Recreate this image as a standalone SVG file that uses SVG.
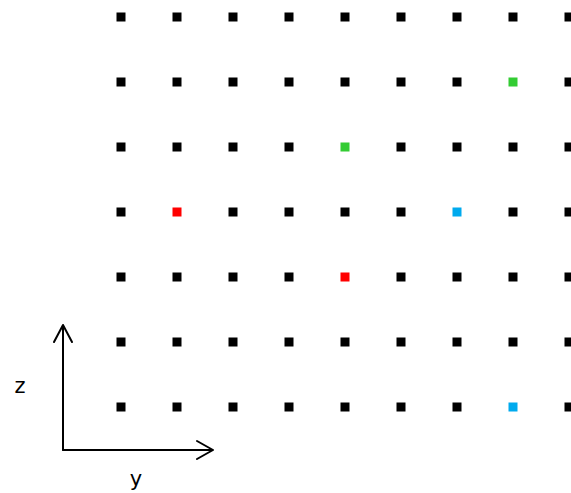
<svg xmlns="http://www.w3.org/2000/svg" width="571" height="493" viewBox="0 0 571 493">
<defs>
<style>
.p{fill:#000}
.g{fill:#33cc33}
.r{fill:#ff0000}
.b{fill:#00aaee}
.ax{stroke:#000;stroke-width:2;fill:none;stroke-linecap:round;stroke-linejoin:round}
.lbl{font-family:"DejaVu Sans",sans-serif;font-size:21px;fill:#000}
</style>
<rect id="sq" x="-4.5" y="-4.5" width="9" height="9"/>
</defs>
<rect width="571" height="493" fill="#fff"/>
<g id="grid">
<g class="p">
<use href="#sq" x="121" y="17"/><use href="#sq" x="177" y="17"/><use href="#sq" x="233" y="17"/><use href="#sq" x="289" y="17"/><use href="#sq" x="345" y="17"/><use href="#sq" x="401" y="17"/><use href="#sq" x="457" y="17"/><use href="#sq" x="513" y="17"/><use href="#sq" x="569" y="17"/>
<use href="#sq" x="121" y="82"/><use href="#sq" x="177" y="82"/><use href="#sq" x="233" y="82"/><use href="#sq" x="289" y="82"/><use href="#sq" x="345" y="82"/><use href="#sq" x="401" y="82"/><use href="#sq" x="457" y="82"/><use href="#sq" x="569" y="82"/>
<use href="#sq" x="121" y="147"/><use href="#sq" x="177" y="147"/><use href="#sq" x="233" y="147"/><use href="#sq" x="289" y="147"/><use href="#sq" x="401" y="147"/><use href="#sq" x="457" y="147"/><use href="#sq" x="513" y="147"/><use href="#sq" x="569" y="147"/>
<use href="#sq" x="121" y="212"/><use href="#sq" x="233" y="212"/><use href="#sq" x="289" y="212"/><use href="#sq" x="345" y="212"/><use href="#sq" x="401" y="212"/><use href="#sq" x="513" y="212"/><use href="#sq" x="569" y="212"/>
<use href="#sq" x="121" y="277"/><use href="#sq" x="177" y="277"/><use href="#sq" x="233" y="277"/><use href="#sq" x="289" y="277"/><use href="#sq" x="401" y="277"/><use href="#sq" x="457" y="277"/><use href="#sq" x="513" y="277"/><use href="#sq" x="569" y="277"/>
<use href="#sq" x="121" y="342"/><use href="#sq" x="177" y="342"/><use href="#sq" x="233" y="342"/><use href="#sq" x="289" y="342"/><use href="#sq" x="345" y="342"/><use href="#sq" x="401" y="342"/><use href="#sq" x="457" y="342"/><use href="#sq" x="513" y="342"/><use href="#sq" x="569" y="342"/>
<use href="#sq" x="121" y="407"/><use href="#sq" x="177" y="407"/><use href="#sq" x="233" y="407"/><use href="#sq" x="289" y="407"/><use href="#sq" x="345" y="407"/><use href="#sq" x="401" y="407"/><use href="#sq" x="457" y="407"/><use href="#sq" x="569" y="407"/>
</g>
<use href="#sq" x="513" y="82" class="g"/>
<use href="#sq" x="345" y="147" class="g"/>
<use href="#sq" x="177" y="212" class="r"/>
<use href="#sq" x="457" y="212" class="b"/>
<use href="#sq" x="345" y="277" class="r"/>
<use href="#sq" x="513" y="407" class="b"/>
</g>
<g id="axes">
<path class="ax" d="M63,450 V325 M54,342 L63,325 L72,342"/>
<path class="ax" d="M63,450 H213 M197,441 L213,450 L197,459"/>
<text class="lbl" x="20" y="393" text-anchor="middle">z</text>
<text class="lbl" x="136" y="486" text-anchor="middle">y</text>
</g>
</svg>
